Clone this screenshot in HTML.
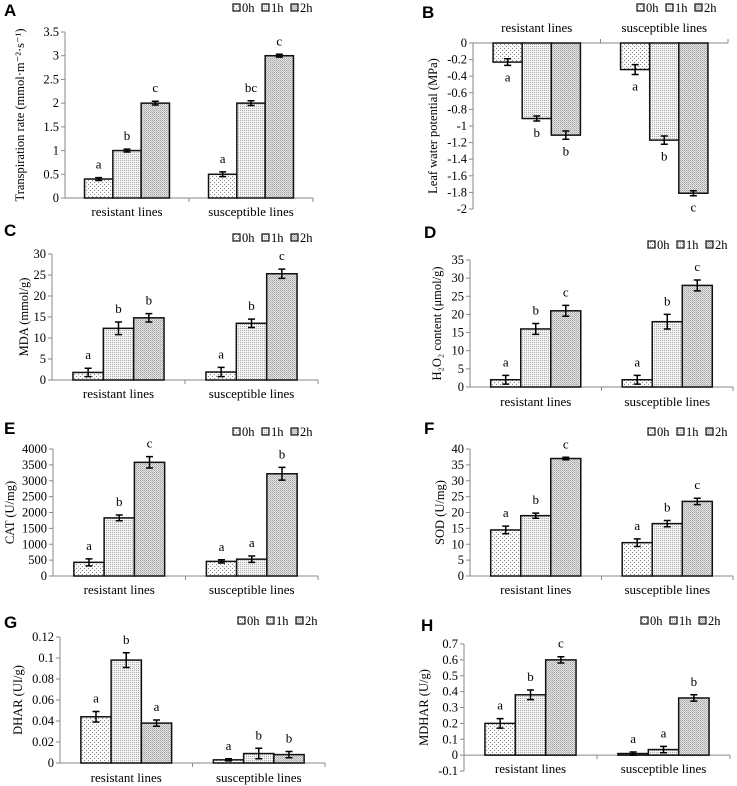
<!DOCTYPE html>
<html><head><meta charset="utf-8">
<style>
html,body{margin:0;padding:0;background:#fff;}
svg{display:block;}
</style></head>
<body>
<svg id="fig" width="737" height="786" viewBox="0 0 737 786" xmlns="http://www.w3.org/2000/svg" font-family="'Liberation Serif', 'DejaVu Serif', serif">
<defs>
<pattern id="p0" width="4" height="4" patternUnits="userSpaceOnUse"><rect width="4" height="4" fill="#fbfbfb"/><rect x="0" y="0" width="1" height="1" fill="#888"/><rect x="2" y="2" width="1" height="1" fill="#888"/></pattern>
<pattern id="p1" width="2" height="2" patternUnits="userSpaceOnUse"><rect width="2" height="2" fill="#f4f4f4"/><rect x="0" y="0" width="1" height="1" fill="#aaa"/></pattern>
<pattern id="p2" width="2" height="2" patternUnits="userSpaceOnUse"><rect width="2" height="2" fill="#e2e2e2"/><rect x="0" y="0" width="1" height="1" fill="#a8a8a8"/><rect x="1" y="1" width="1" height="1" fill="#bcbcbc"/></pattern>
</defs>
</svg>
<script>
// ---- data ----
const categories = ["resistant lines", "susceptible lines"];
const seriesNames = ["0h", "1h", "2h"];

const aValues = [[0.4, 1.0, 2.0], [0.5, 2.0, 3.0]];
const aErrors = [[0.03, 0.03, 0.04], [0.05, 0.05, 0.03]];
const aLetters = [["a", "b", "c"], ["a", "bc", "c"]];
const aTicks = ["0", "0.5", "1", "1.5", "2", "2.5", "3", "3.5"];

const bValues = [[-0.23, -0.91, -1.11], [-0.32, -1.17, -1.81]];
const bErrors = [[0.04, 0.03, 0.05], [0.06, 0.05, 0.03]];
const bLetters = [["a", "b", "b"], ["a", "b", "c"]];
const bTicks = ["-2", "-1.8", "-1.6", "-1.4", "-1.2", "-1", "-0.8", "-0.6", "-0.4", "-0.2", "0"];

const cValues = [[1.8, 12.3, 14.8], [1.9, 13.5, 25.3]];
const cErrors = [[1.0, 1.5, 1.0], [1.1, 1.0, 1.1]];
const cLetters = [["a", "b", "b"], ["a", "b", "c"]];
const cTicks = ["0", "5", "10", "15", "20", "25", "30"];

const dValues = [[2, 16, 21], [2, 18, 28]];
const dErrors = [[1.2, 1.5, 1.5], [1.2, 2.0, 1.5]];
const dLetters = [["a", "b", "c"], ["a", "b", "c"]];
const dTicks = ["0", "5", "10", "15", "20", "25", "30", "35"];

const eValues = [[430, 1830, 3580], [460, 530, 3220]];
const eErrors = [[110, 90, 180], [50, 100, 200]];
const eLetters = [["a", "b", "c"], ["a", "a", "b"]];
const eTicks = ["0", "500", "1000", "1500", "2000", "2500", "3000", "3500", "4000"];

const fValues = [[14.5, 19, 37], [10.5, 16.5, 23.5]];
const fErrors = [[1.2, 0.8, 0.4], [1.2, 1.0, 1.0]];
const fLetters = [["a", "b", "c"], ["a", "b", "c"]];
const fTicks = ["0", "5", "10", "15", "20", "25", "30", "35", "40"];

const gValues = [[0.044, 0.098, 0.038], [0.003, 0.009, 0.008]];
const gErrors = [[0.005, 0.007, 0.003], [0.001, 0.005, 0.003]];
const gLetters = [["a", "b", "a"], ["a", "b", "b"]];
const gTicks = ["0", "0.02", "0.04", "0.06", "0.08", "0.1", "0.12"];

const hValues = [[0.2, 0.38, 0.6], [0.01, 0.035, 0.36]];
const hErrors = [[0.03, 0.03, 0.02], [0.01, 0.02, 0.02]];
const hLetters = [["a", "b", "c"], ["a", "a", "b"]];
const hTicks = ["-0.1", "0", "0.1", "0.2", "0.3", "0.4", "0.5", "0.6", "0.7"];

// ---- layout ----
const panels = [
 {id:"a", L:"A", lx:4, ly:16, ax:65, rx:313, yTop:32, yBot:198, v:aValues, e:aErrors, t:aLetters, ticks:aTicks, title:"Transpiration rate (mmol·m⁻²·s⁻¹)", tx:21, legX:233, legY:8, catY:216},
 {id:"b", L:"B", lx:422, ly:18, ax:473, rx:728, yTop:43, yBot:209, v:bValues, e:bErrors, t:bLetters, ticks:bTicks, title:"Leaf water potential (MPa)", tx:434, legX:637, legY:8, catY:32, below:true},
 {id:"c", L:"C", lx:4, ly:236, ax:52, rx:318, yTop:254, yBot:380, v:cValues, e:cErrors, t:cLetters, ticks:cTicks, title:"MDA (mmol/g)", tx:25, legX:233, legY:238, catY:398},
 {id:"d", L:"D", lx:424, ly:238, ax:470, rx:733, yTop:260, yBot:387, v:dValues, e:dErrors, t:dLetters, ticks:dTicks, title:"H₂O₂ content (μmol/g)", tx:438, legX:648, legY:245, catY:406},
 {id:"e", L:"E", lx:4, ly:434, ax:53, rx:318, yTop:449, yBot:576, v:eValues, e:eErrors, t:eLetters, ticks:eTicks, title:"CAT (U/mg)", tx:11, legX:233, legY:432, catY:594},
 {id:"f", L:"F", lx:424, ly:434, ax:470, rx:733, yTop:449, yBot:576, v:fValues, e:fErrors, t:fLetters, ticks:fTicks, title:"SOD (U/mg)", tx:441, legX:648, legY:432, catY:594},
 {id:"g", L:"G", lx:4, ly:628, ax:60, rx:325, yTop:637, yBot:763, v:gValues, e:gErrors, t:gLetters, ticks:gTicks, title:"DHAR (UI/g)", tx:19, legX:238, legY:621, catY:782},
 {id:"h", L:"H", lx:421, ly:631, ax:464, rx:730, yTop:644, yBot:771, v:hValues, e:hErrors, t:hLetters, ticks:hTicks, title:"MDHAR (U/g)", tx:425, legX:641, legY:621, catY:773}
];

const NS = "http://www.w3.org/2000/svg";
const svg = document.getElementById("fig");
const SERIF = "'Liberation Serif', 'DejaVu Serif', serif";
function mk(tag, attrs, parent){
  const el = document.createElementNS(NS, tag);
  for (const k in attrs) el.setAttribute(k, attrs[k]);
  if (tag === "text" && !attrs["font-family"]) el.setAttribute("font-family", SERIF);
  (parent||svg).appendChild(el);
  return el;
}

panels.forEach(p => {
  const g = mk("g", {});
  
  
  const tmin = parseFloat(p.ticks[0]), tmax = parseFloat(p.ticks[p.ticks.length-1]);
  const y = v => p.yBot - (v - tmin) / (tmax - tmin) * (p.yBot - p.yTop);
  const y0 = y(0);

  const pl = mk("text", {x:p.lx, y:p.ly, "font-family":"'Liberation Sans', sans-serif", "font-weight":"bold", "font-size":"17"}, g);
  pl.textContent = p.L;
  
  

  const yaxis = mk("line", {x1:p.ax, y1:p.yTop, x2:p.ax, y2:p.yBot, stroke:"#8a8a8a", "stroke-width":1}, g);
  
  
  p.ticks.forEach(tl => {
    const ty = y(parseFloat(tl));
    mk("line", {x1:p.ax-4, y1:ty, x2:p.ax, y2:ty, stroke:"#8a8a8a"}, g);
    const tt = mk("text", {x:p.ax-6, y:ty+4, "text-anchor":"end", "font-size":"12.5"}, g);
    tt.textContent = tl;
    
    
  });
  const ymid = (p.yTop + p.yBot) / 2;
  const yt = mk("text", {x:p.tx, y:ymid, "text-anchor":"middle", "font-size":"12.5", transform:"rotate(-90 "+p.tx+" "+ymid+")", "dominant-baseline":"middle"}, g);
  yt.textContent = p.title;
  
  

  const xaxis = mk("line", {x1:p.ax, y1:y0, x2:p.rx, y2:y0, stroke:"#8a8a8a"}, g);
  
  
  const half = (p.rx - p.ax) / 2;
  [p.ax + half, p.rx].forEach(xx => mk("line", {x1:xx, y1:y0, x2:xx, y2:y0+(p.below?-4:4), stroke:"#8a8a8a"}, g));
  const bw = half * 0.685 / 3;

  categories.forEach((cat, ci) => {
    const cx = p.ax + half * (ci + 0.5);
    const ct = mk("text", {x:cx, y:p.catY, "text-anchor":"middle", "font-size":"13"}, g);
    ct.textContent = cat;
    
    
    p.v[ci].forEach((val, si) => {
      const bx = cx - 1.5*bw + si*bw;
      const yv = y(val);
      const r = mk("rect", {x:bx, y:Math.min(yv,y0), width:bw, height:Math.abs(y0-yv), fill:"url(#p"+si+")", stroke:"#111", "stroke-width":1.5}, g);
      
      
      const er = p.e[ci][si];
      const mx = bx + bw/2;
      const y1 = y(val+er), y2 = y(val-er);
      const eb = mk("path", {d:`M${mx-3.5},${y1}H${mx+3.5}M${mx},${y1}V${y2}M${mx-3.5},${y2}H${mx+3.5}`, stroke:"#000", "stroke-width":1.5, fill:"none"}, g);
      
      
      const ly = p.below ? y(val-er) + 16 : y(val+er) - 9;
      const lt = mk("text", {x:mx, y:ly, "text-anchor":"middle", "font-size":"13"}, g);
      lt.textContent = p.t[ci][si];
      
      
    });
  });

  let lx = p.legX;
  seriesNames.forEach((s, si) => {
    const sw = mk("rect", {x:lx, y:p.legY-4, width:7, height:7, fill:"url(#p"+si+")", stroke:"#111", "stroke-width":1.2}, g);
    
    
    const lt = mk("text", {x:lx+9, y:p.legY+4, "font-size":"12.5"}, g);
    lt.textContent = s;
    
    
    lx += 29;
  });
});
</script>
</body></html>
